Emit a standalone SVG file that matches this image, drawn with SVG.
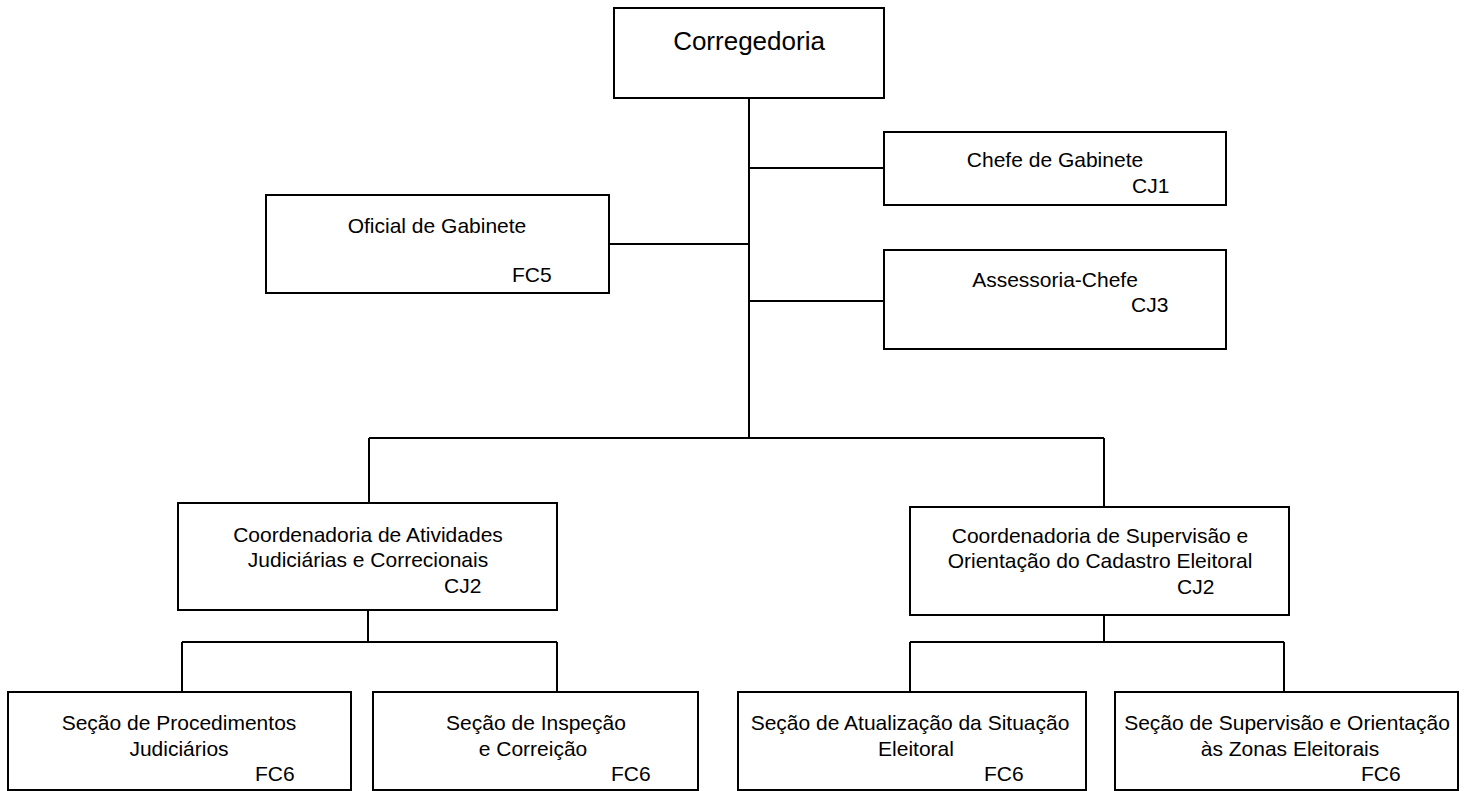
<svg xmlns="http://www.w3.org/2000/svg" width="1468" height="791" viewBox="0 0 1468 791">
<style>
.box{fill:#fff;stroke:#000;stroke-width:2}
.ln{stroke:#000;stroke-width:2;fill:none}
text{font-family:"Liberation Sans",Arial,sans-serif;font-size:21px;fill:#000}
.c{text-anchor:middle}
.big{font-size:26px}
</style>
<rect width="1468" height="791" fill="#fff"/>
<g id="connectors">
<path class="ln" d="M749 98V438M609 244H749M749 168H884M749 301H884M369 438H1104M369 438V503M1104 438V507M368 610V642M182 642H557M182 642V692M557 642V692M1104 615V642M910 642H1284M910 642V692M1284 642V692"/>
</g>
<g id="corregedoria">
<rect class="box" x="614" y="8" width="270" height="90"/>
<text class="c big" x="749" y="50">Corregedoria</text>
</g>
<g id="chefe-gabinete">
<rect class="box" x="884" y="132" width="342" height="73"/>
<text class="c" x="1055" y="167">Chefe de Gabinete</text>
<text x="1132" y="193">CJ1</text>
</g>
<g id="oficial-gabinete">
<rect class="box" x="266" y="195" width="343" height="98"/>
<text class="c" x="437" y="233">Oficial de Gabinete</text>
<text x="512" y="282">FC5</text>
</g>
<g id="assessoria-chefe">
<rect class="box" x="884" y="250" width="342" height="99"/>
<text class="c" x="1055" y="287">Assessoria-Chefe</text>
<text x="1131" y="312">CJ3</text>
</g>
<g id="coord-atividades">
<rect class="box" x="178" y="503" width="379" height="107"/>
<text class="c" x="368" y="542">Coordenadoria de Atividades</text>
<text class="c" x="368" y="567">Judiciárias e Correcionais</text>
<text x="444" y="593">CJ2</text>
</g>
<g id="coord-supervisao">
<rect class="box" x="910" y="507" width="379" height="108"/>
<text class="c" x="1100" y="543">Coordenadoria de Supervisão e</text>
<text class="c" x="1100" y="568">Orientação do Cadastro Eleitoral</text>
<text x="1177" y="594">CJ2</text>
</g>
<g id="secao-procedimentos">
<rect class="box" x="8" y="692" width="343" height="98"/>
<text class="c" x="179" y="730">Seção de Procedimentos</text>
<text class="c" x="179" y="756">Judiciários</text>
<text x="255" y="781">FC6</text>
</g>
<g id="secao-inspecao">
<rect class="box" x="373" y="692" width="325" height="98"/>
<text class="c" x="536" y="730">Seção de Inspeção</text>
<text class="c" x="533" y="756">e Correição</text>
<text x="611" y="781">FC6</text>
</g>
<g id="secao-atualizacao">
<rect class="box" x="738" y="692" width="348" height="98"/>
<text class="c" x="910" y="730">Seção de Atualização da Situação</text>
<text class="c" x="916" y="756">Eleitoral</text>
<text x="984" y="781">FC6</text>
</g>
<g id="secao-supervisao">
<rect class="box" x="1115" y="692" width="343" height="98"/>
<text class="c" x="1287" y="730">Seção de Supervisão e Orientação</text>
<text class="c" x="1290" y="756">às Zonas Eleitorais</text>
<text x="1361" y="781">FC6</text>
</g>
</svg>
